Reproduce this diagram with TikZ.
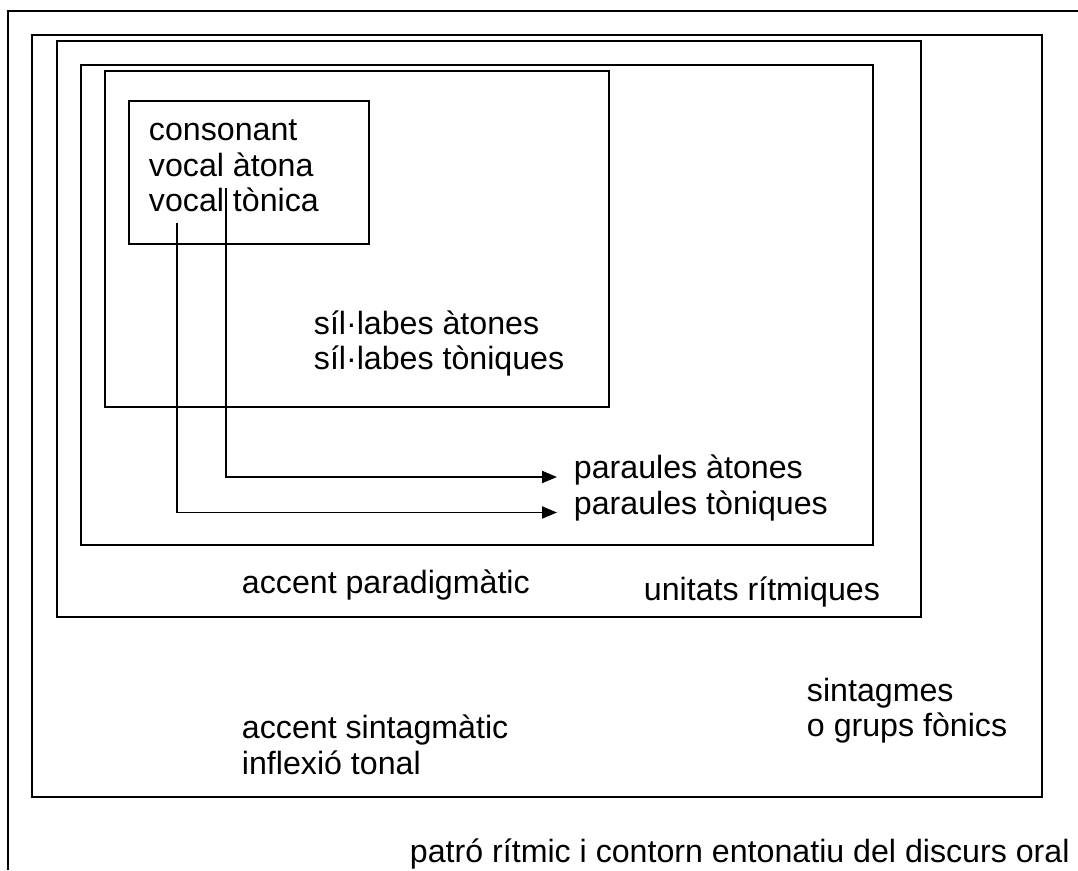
\documentclass[tikz,border=0pt]{standalone}
\usepackage{fontspec}
\setmainfont{Liberation Sans}
\usetikzlibrary{arrows.meta}
\usetikzlibrary{positioning}
\tikzset{every picture/.style={line width=1.1pt},
  txt/.style={inner sep=0pt,anchor=base west,align=left,font=\fontsize{18.3}{20.2}\selectfont},
  arr/.style={-{Triangle[length=0.3cm,width=0.24cm]}}}

\begin{document}
\begin{tikzpicture}
\useasboundingbox (0,0) rectangle (21.56,17.4);
% nested levels
\draw (0.16,0) -- (0.16,17.18) -- (21.56,17.18);
\draw (0.64,1.46) rectangle (20.84,16.7);
\draw (1.14,5.06) rectangle (18.42,16.58);
\draw (1.62,6.5) rectangle (17.46,16.1);
\draw (2.1,9.26) rectangle (12.18,15.98);
\draw (2.58,12.52) rectangle (7.38,15.38);
% texts (base = last line)
\node[txt] (segm) at (2.96,13.16) {consonant\\vocal àtona\\vocal tònica};
\node[txt] (sillab) at (6.26,10.0) {síl·labes àtones\\síl·labes tòniques};
\node[txt] (paratone) at (11.46,7.82) {paraules àtones};
\node[txt] (paratonic) at (11.46,7.11) {paraules tòniques};
\node[txt] (accpar) at (4.82,5.52) {accent paradigmàtic};
\node[txt] (unitats) at (12.86,5.38) {unitats rítmiques};
\node[txt] (sintag) at (16.12,2.66) {sintagmes\\o grups fònics};
\node[txt] (accsint) at (4.82,1.92) {accent sintagmàtic\\inflexió tonal};
\node[txt] (patro) at (8.18,0.16) {patró rítmic i contorn entonatiu del discurs oral};
% arrows from the vowels
\coordinate (atona) at (4.52,13.64);
\coordinate (tonica) at (3.54,12.94);
\draw[arr] (atona) |- ([xshift=-0.32cm,yshift=0.04cm]paratone.base west);
\draw[arr] (tonica) |- ([xshift=-0.32cm,yshift=0.04cm]paratonic.base west);
\end{tikzpicture}
\end{document}
